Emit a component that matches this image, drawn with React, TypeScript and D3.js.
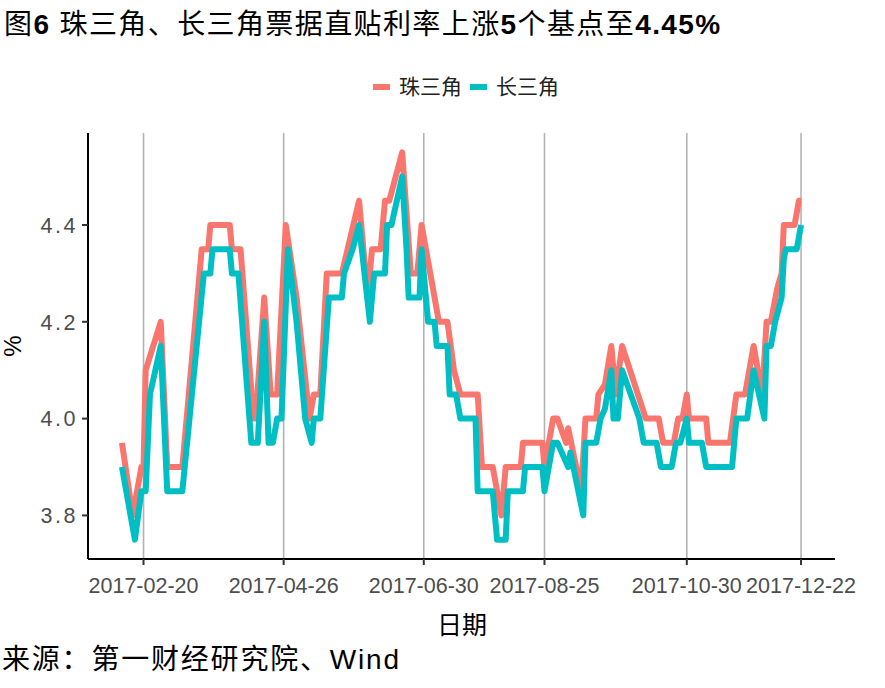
import React from "react";
import * as d3 from "d3";

// 珠三角 (Pearl River Delta) breakpoints
const zhuDates = [
  "2017-02-10","2017-02-15","2017-02-19","2017-02-20","2017-02-21","2017-02-28","2017-03-03","2017-03-10",
  "2017-03-19","2017-03-22","2017-03-23","2017-04-01","2017-04-02","2017-04-06","2017-04-12","2017-04-13",
  "2017-04-17","2017-04-20","2017-04-23","2017-04-27","2017-05-02","2017-05-08","2017-05-10","2017-05-13",
  "2017-05-16","2017-05-23","2017-05-31","2017-06-04","2017-06-06","2017-06-10","2017-06-12","2017-06-14",
  "2017-06-20","2017-06-24","2017-06-27","2017-06-29","2017-07-05","2017-07-07","2017-07-11","2017-07-14",
  "2017-07-17","2017-07-25","2017-07-27","2017-08-01","2017-08-05","2017-08-07","2017-08-14","2017-08-15",
  "2017-08-24","2017-08-25","2017-08-29","2017-08-31","2017-09-04","2017-09-05","2017-09-11","2017-09-13",
  "2017-09-18","2017-09-19","2017-09-22","2017-09-25","2017-09-27","2017-09-30","2017-10-11","2017-10-17",
  "2017-10-19","2017-10-24","2017-10-26","2017-10-28","2017-10-30","2017-10-31","2017-11-08","2017-11-09",
  "2017-11-19","2017-11-22","2017-11-26","2017-11-30","2017-12-04","2017-12-06","2017-12-08","2017-12-11",
  "2017-12-13","2017-12-14","2017-12-19","2017-12-21","2017-12-22"
];
const zhuValues = [
  3.95, 3.80, 3.90, 3.90, 4.10, 4.20, 3.90, 3.90,
  4.35, 4.35, 4.40, 4.40, 4.35, 4.35, 4.00, 4.00,
  4.25, 4.05, 4.05, 4.40, 4.25, 4.00, 4.05, 4.05,
  4.30, 4.30, 4.45, 4.25, 4.35, 4.35, 4.45, 4.45,
  4.55, 4.30, 4.30, 4.40, 4.25, 4.20, 4.20, 4.10,
  4.05, 4.05, 3.90, 3.90, 3.80, 3.90, 3.90, 3.95,
  3.95, 3.90, 4.00, 4.00, 3.95, 3.98, 3.85, 4.00,
  4.00, 4.05, 4.07, 4.15, 4.05, 4.15, 4.00, 4.00,
  3.95, 3.95, 4.00, 4.00, 4.05, 4.00, 4.00, 3.95,
  3.95, 4.05, 4.05, 4.15, 4.05, 4.20, 4.20, 4.27,
  4.30, 4.40, 4.40, 4.45, 4.45
];

// 长三角 (Yangtze River Delta) breakpoints
const changDates = [
  "2017-02-10","2017-02-16","2017-02-19","2017-02-21","2017-02-23","2017-02-28","2017-03-03","2017-03-10",
  "2017-03-20","2017-03-23","2017-03-24","2017-04-01","2017-04-02","2017-04-05","2017-04-11","2017-04-14",
  "2017-04-17","2017-04-19","2017-04-21","2017-04-23","2017-04-25","2017-04-28","2017-05-02","2017-05-06",
  "2017-05-09","2017-05-10","2017-05-13","2017-05-17","2017-05-23","2017-05-24","2017-05-28","2017-05-31",
  "2017-06-05","2017-06-07","2017-06-12","2017-06-13","2017-06-15","2017-06-20","2017-06-22","2017-06-23",
  "2017-06-28","2017-06-29","2017-07-02","2017-07-05","2017-07-06","2017-07-11","2017-07-12","2017-07-15",
  "2017-07-17","2017-07-24","2017-07-25","2017-08-01","2017-08-02","2017-08-03","2017-08-07","2017-08-08",
  "2017-08-15","2017-08-16","2017-08-24","2017-08-25","2017-08-29","2017-08-31","2017-09-05","2017-09-06",
  "2017-09-12","2017-09-13","2017-09-18","2017-09-20","2017-09-22","2017-09-25","2017-09-26","2017-09-28",
  "2017-09-30","2017-10-08","2017-10-10","2017-10-16","2017-10-18","2017-10-23","2017-10-25","2017-10-27",
  "2017-10-30","2017-10-31","2017-11-06","2017-11-08","2017-11-20","2017-11-22","2017-11-27","2017-11-30",
  "2017-12-05","2017-12-06","2017-12-08","2017-12-10","2017-12-13","2017-12-14","2017-12-15","2017-12-20",
  "2017-12-22"
];
const changValues = [
  3.90, 3.75, 3.85, 3.85, 4.05, 4.15, 3.85, 3.85,
  4.30, 4.30, 4.35, 4.35, 4.30, 4.30, 3.95, 3.95,
  4.20, 3.95, 3.95, 4.00, 4.00, 4.35, 4.20, 4.00,
  3.95, 4.00, 4.00, 4.25, 4.25, 4.30, 4.35, 4.40,
  4.20, 4.30, 4.30, 4.40, 4.40, 4.50, 4.35, 4.25,
  4.25, 4.35, 4.20, 4.20, 4.15, 4.15, 4.05, 4.05,
  4.00, 4.00, 3.85, 3.85, 3.80, 3.75, 3.75, 3.85,
  3.85, 3.90, 3.90, 3.85, 3.95, 3.95, 3.90, 3.93,
  3.80, 3.95, 3.95, 4.00, 4.02, 4.10, 4.00, 4.00,
  4.10, 4.00, 3.95, 3.95, 3.90, 3.90, 3.95, 3.95,
  4.00, 3.95, 3.95, 3.90, 3.90, 4.00, 4.00, 4.10,
  4.00, 4.15, 4.15, 4.20, 4.25, 4.33, 4.35, 4.35,
  4.40
];

const seriesNames = ["珠三角", "长三角"];
const seriesColors = ["#F8766D", "#00BFC4"];
const xTickLabels = ["2017-02-20", "2017-04-26", "2017-06-30", "2017-08-25", "2017-10-30", "2017-12-22"];
const yTickValues = [3.8, 4.0, 4.2, 4.4];

const titleParts: [string, boolean][] = [
  ["图", false], ["6", true], [" 珠三角、长三角票据直贴利率上涨", false], ["5", true],
  ["个基点至", false], ["4.45%", true],
];
const sourceText = "来源：第一财经研究院、Wind";
const xTitle = "日期";
const yTitle = "%";

const FONT = "'Liberation Sans', Arial, 'Noto Sans CJK SC', sans-serif";

export default function App() {
  const W = 885, H = 688;
  const panel = { left: 88, right: 835, top: 133, bottom: 559 };
  const parse = d3.timeParse("%Y-%m-%d");

  const series = [
    { name: seriesNames[0], color: seriesColors[0], pts: zhuDates.map((d, i) => ({ d: parse(d)!, v: zhuValues[i] })) },
    { name: seriesNames[1], color: seriesColors[1], pts: changDates.map((d, i) => ({ d: parse(d)!, v: changValues[i] })) },
  ];
  const all = series.flatMap((s) => s.pts);
  const [t0, t1] = d3.extent(all, (p) => +p.d) as [number, number];
  const [v0, v1] = d3.extent(all, (p) => p.v) as [number, number];
  const tp = (t1 - t0) * 0.05, vp = (v1 - v0) * 0.05;
  const x = d3.scaleTime().domain([new Date(t0 - tp), new Date(t1 + tp)]).range([panel.left, panel.right]);
  const y = d3.scaleLinear().domain([v0 - vp, v1 + vp]).range([panel.bottom, panel.top]);
  const line = d3.line<{ d: Date; v: number }>().x((p) => x(p.d)).y((p) => y(p.v));
  const xTicks = xTickLabels.map((s) => parse(s)!);
  const fmt = d3.format(".1f");

  return (
    <svg width={W} height={H} style={{ position: "absolute", left: 0, top: 0, background: "#fff" }} fontFamily={FONT}>
      <rect x={0} y={0} width={W} height={H} fill="#fff" />
      <text x={4} y={34} fontSize={28} letterSpacing={1.4} fill="#000">
        {titleParts.map(([t, b], i) => (
          <tspan key={i} fontWeight={b ? "bold" : "normal"}>{t}</tspan>
        ))}
      </text>
      {/* legend */}
      {series.map((s, i) => {
        const lx = [373, 470][i];
        return (
          <g key={s.name}>
            <line x1={lx} x2={lx + 17} y1={87} y2={87} stroke={s.color} strokeWidth={6} />
            <text x={lx + 26} y={94} fontSize={21} fill="#222">{s.name}</text>
          </g>
        );
      })}
      {/* grid */}
      {xTicks.map((t, i) => (
        <line key={i} x1={x(t)} x2={x(t)} y1={panel.top} y2={panel.bottom} stroke="#b3b3b3" strokeWidth={1.6} />
      ))}
      {/* lines */}
      {series.map((s) => (
        <path key={s.name} d={line(s.pts)!} fill="none" stroke={s.color} strokeWidth={6} strokeLinejoin="round" />
      ))}
      {/* axes */}
      <line x1={panel.left} x2={panel.right} y1={panel.bottom} y2={panel.bottom} stroke="#000" strokeWidth={2} />
      <line x1={panel.left} x2={panel.left} y1={panel.top} y2={panel.bottom} stroke="#000" strokeWidth={2} />
      {xTicks.map((t, i) => (
        <g key={i}>
          <line x1={x(t)} x2={x(t)} y1={panel.bottom} y2={panel.bottom + 6} stroke="#333" strokeWidth={2} />
          <text x={x(t)} y={593} fontSize={21.5} fill="#4d4d4d" textAnchor="middle">{xTickLabels[i]}</text>
        </g>
      ))}
      {yTickValues.map((v) => (
        <g key={v}>
          <line x1={panel.left - 6} x2={panel.left} y1={y(v)} y2={y(v)} stroke="#333" strokeWidth={2} />
          <text x={panel.left - 10} y={y(v)} dy="0.36em" fontSize={21.5} letterSpacing={2.5} fill="#4d4d4d" textAnchor="end">{fmt(v)}</text>
        </g>
      ))}
      <text x={462} y={634} fontSize={25} fill="#000" textAnchor="middle">{xTitle}</text>
      <text transform={`translate(21,346) rotate(-90)`} fontSize={24} fill="#000" textAnchor="middle">{yTitle}</text>
      <text x={2} y={669} fontSize={28} letterSpacing={1.8} fill="#000">{sourceText}</text>
    </svg>
  );
}
